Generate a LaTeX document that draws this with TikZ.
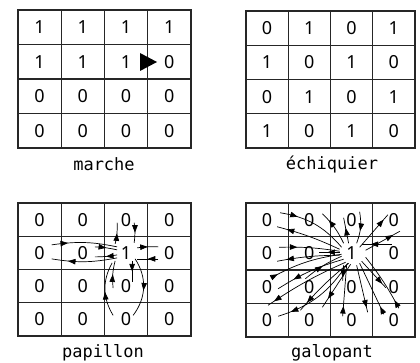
\documentclass[tikz,border=0pt]{standalone}
\usepackage{fontspec}
\setmonofont{DejaVu Sans Mono}
\newfontfamily\digfont{Noto Sans}
\usetikzlibrary{arrows.meta,decorations.markings,calc}
\newcommand{\cellgrid}[4]{%
  \draw[gridline] (#1,#2) rectangle ++(#3,#4);
  \foreach \k in {1,2,3}{%
    \draw[gridline] ({#1+#3*\k/4},#2) -- ++(0,#4);
    \draw[gridline] (#1,{#2+#4*\k/4}) -- ++(#3,0);}}
\begin{document}
\begin{tikzpicture}[x=1pt,y=-1pt,
  dig/.style={font=\digfont\fontsize{18}{18}\selectfont, inner sep=1pt},
  lab/.style={font=\ttfamily\fontsize{17}{17}\selectfont, inner sep=0pt},
  gridline/.style={line width=1.1pt, draw=black!85},
  arr/.style={line width=0.7pt, postaction={decorate},
    decoration={markings, mark=at position #1 with {\arrow{Triangle[length=7.5pt,width=5.5pt]}}}},
  arr/.default=0.5]
\useasboundingbox (0,0) rectangle (420,363);

% ---- grids
\cellgrid{18}{10}{173}{138}
\cellgrid{246}{11}{169}{137}
\cellgrid{18}{203}{173}{133}
\cellgrid{246}{203}{169}{134}

% ---- digits
\foreach \r/\vals in {1/{1,1,1,1},2/{1,1,1,0},3/{0,0,0,0},4/{0,0,0,0}}
  \foreach \v [count=\c] in \vals
    \node[dig] (A\r\c) at ({18+43.25*(\c-0.5)},{10+34.5*(\r-0.5)}) {\v};
\foreach \r/\vals in {1/{0,1,0,1},2/{1,0,1,0},3/{0,1,0,1},4/{1,0,1,0}}
  \foreach \v [count=\c] in \vals
    \node[dig] (B\r\c) at ({246+42.25*(\c-0.5)},{11+34.25*(\r-0.5)}) {\v};
\foreach \r/\vals in {1/{0,0,0,0},2/{0,0,1,0},3/{0,0,0,0},4/{0,0,0,0}}
  \foreach \v [count=\c] in \vals
    \node[dig] (C\r\c) at ({18+43.25*(\c-0.5)},{203+33.25*(\r-0.5)}) {\v};
\foreach \r/\vals in {1/{0,0,0,0},2/{0,0,1,0},3/{0,0,0,0},4/{0,0,0,0}}
  \foreach \v [count=\c] in \vals
    \node[dig] (G\r\c) at ({246+42.25*(\c-0.5)},{203+33.5*(\r-0.5)}) {\v};

% ---- labels
\node[lab] (labA) at (104,164) {marche};
\node[lab] (labB) at (332,164) {échiquier};
\node[lab] (labC) at (103,353) {papillon};
\node[lab] (labG) at (332,353) {galopant};

% ---- marche pointer
\fill (140,53) -- (157,62) -- (140,71) -- cycle;

% ---- papillon
\draw[arr] ($(C23)+(-11,-9)$) to[bend right=8] ($(C13)+(-9,3)$);
\draw[arr] ($(C13)+(8,3)$) to[bend left=8] ($(C23)+(8,-10)$);
\draw[arr] ($(C23)+(11,-5)$) to[bend left=5] ($(C24)+(-11,-6)$);
\draw[arr] ($(C24)+(-11,6)$) to ($(C23)+(11,6)$);
\draw[arr=0.25] ($(C21)+(12,-8)$) to[bend left=10] ($(C23)+(-9,-6)$);
\draw[arr=0.75] ($(C23)+(-9,5)$) to[bend left=10] ($(C21)+(12,6)$);
\draw[arr] ($(C22)+(12,-6)$) to[bend left=5] ($(C23)+(-9,-3)$);
\draw[arr] ($(C23)+(-9,2)$) to[bend left=5] ($(C22)+(12,4)$);
\draw[arr] ($(C23)+(6,8)$) to ($(C33)+(6,-4)$);
\draw[arr] ($(C33)+(-13,2)$) to[bend left=10] ($(C23)+(-11,8)$);
\draw[arr=0.55] ($(C23)+(9,6)$) to[bend left=35] ($(C43)+(7,-4)$);
\draw[arr=0.45] ($(C43)+(-13,-4)$) to[bend left=30] ($(C23)+(-14,10)$);

% ---- galopant
\coordinate (g) at (G23);
\draw[arr=0.25] ($(G11)+(13,-7)$) to[bend left=20] ($(g)+(-10,-6)$);
\draw[arr=0.75] ($(g)+(-8,-10)$) to[bend right=10] ($(G12)+(13,-6)$);
\draw[arr=0.85] ($(g)+(-12,-4)$) to[bend right=5] ($(G11)+(10,7)$);
\draw[arr=0.3] ($(G21)+(12,-6)$) to[bend left=5] ($(g)+(-12,-2)$);
\draw[arr=0.85] ($(g)+(-12,2)$) to[bend right=5] ($(G21)+(10,8)$);
\draw[arr=0.1] ($(G31)+(4,-9)$) to[bend left=10] ($(g)+(-10,1)$);
\draw[arr=0.75] ($(g)+(-8,6)$) to[bend right=8] ($(G31)+(11,2)$);
\draw[arr=0.92] ($(g)+(-6,9)$) to[bend right=5] ($(G41)+(1,-15)$);
\draw[arr=0.85] ($(g)+(-4,10)$) to[bend left=20] ($(G41)+(11,-4)$);
\draw[arr=0.85] ($(g)+(-3,10)$) to[bend right=5] ($(G42)+(-9,-10)$);
\draw[arr=0.8] ($(g)+(-1,11)$) to ($(G42)+(13,-13)$);
\draw[arr] ($(G32)+(-4,-8)$) to[bend left=8] ($(g)+(-10,3)$);
\draw[arr=0.6] ($(g)+(-12,-1)$) to ($(G22)+(10,-1)$);
\draw[arr=0.6] ($(G13)+(8,-8)$) to[bend left=15] ($(g)+(5,-10)$);
\draw[arr=0.6] ($(g)+(-3,-10)$) to ($(G13)+(-8,-2)$);
\draw[arr=0.85] ($(g)+(8,-6)$) to ($(G14)+(-6,-5)$);
\draw[arr=0.8] ($(g)+(14,-3)$) to ($(G24)+(6,-22)$);
\draw[arr=0.7] ($(G24)+(-2,-9)$) to ($(g)+(10,-9)$);
\draw[arr=0.8] ($(g)+(-8,12)$) to ($(G33)+(-9,-6)$);
\draw[arr=0.2] ($(G43)+(-9,-4)$) to ($(g)+(-5,12)$);
\draw[arr=0.9] ($(g)+(5,12)$) to ($(G43)+(16,-8)$);
\draw[arr=0.15] ($(G44)+(-10,-6)$) to ($(g)+(8,10)$);
\draw[arr=0.85] ($(g)+(10,8)$) to ($(G34)+(-8,1)$);
\draw[arr=0.15] ($(G44)+(5,-12)$) to[bend right=5] ($(g)+(14,4)$);
\end{tikzpicture}
\end{document}
